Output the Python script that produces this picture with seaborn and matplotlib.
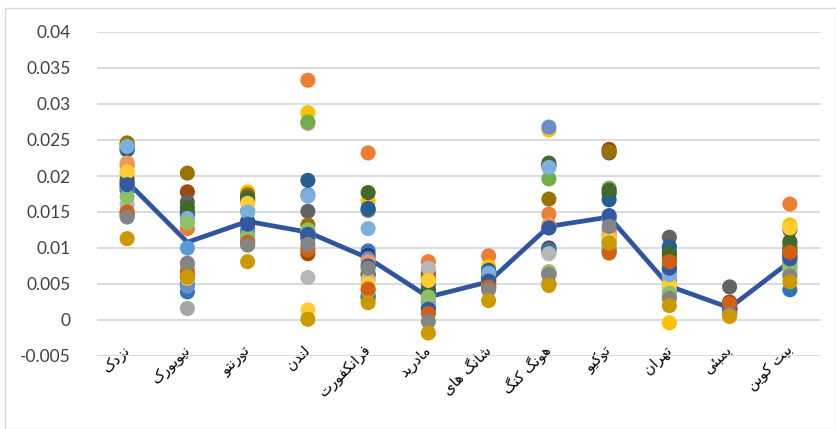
import numpy as np
import pandas as pd
import matplotlib
matplotlib.use("Agg")
import matplotlib.pyplot as plt
from matplotlib.ticker import MultipleLocator, FuncFormatter
from matplotlib.patches import Rectangle
import seaborn as sns

# ---------------- data ----------------
categories = ["نزدک", "نیویورک", "تورنتو", "لندن", "فرانکفورت", "مادرید",
              "شانگ های", "هونگ کنگ", "توکیو", "تهران", "بمبئی", "بیت کوین"]

mean_values = [0.0192, 0.0108, 0.0137, 0.0122, 0.0086, 0.0032,
               0.0053, 0.0130, 0.0143, 0.0047, 0.0017, 0.0081]

s01 = [0.0183, 0.0050, 0.0135, 0.0115, 0.0096, 0.0025, 0.0060, 0.0128, 0.0143, 0.0070, 0.0018, 0.0090]
s02 = [0.0214, 0.0127, 0.0110, 0.0333, 0.0232, 0.0081, 0.0089, 0.0147, 0.0125, 0.0078, 0.0020, 0.0161]
s03 = [0.0145, 0.0016, 0.0106, 0.0273, 0.0152, 0.0045, 0.0050, 0.0064, 0.0110, 0.0033, 0.0012, 0.0065]
s04 = [0.0203, 0.0062, 0.0178, 0.0288, 0.0165, 0.0058, 0.0074, 0.0264, 0.0118, -0.0004, 0.0008, 0.0132]
s05 = [0.0190, 0.0100, 0.0152, 0.0174, 0.0035, 0.0022, 0.0058, 0.0214, 0.0098, 0.0066, 0.0016, 0.0072]
s06 = [0.0192, 0.0150, 0.0118, 0.0275, 0.0030, 0.0040, 0.0063, 0.0196, 0.0183, 0.0040, 0.0014, 0.0105]
s07 = [0.0243, 0.0145, 0.0137, 0.0121, 0.0090, 0.0033, 0.0055, 0.0100, 0.0176, 0.0095, 0.0021, 0.0088]
s08 = [0.0148, 0.0178, 0.0112, 0.0092, 0.0062, 0.0065, 0.0047, 0.0065, 0.0237, 0.0085, 0.0025, 0.0098]
s09 = [0.0236, 0.0164, 0.0166, 0.0151, 0.0153, 0.0050, 0.0066, 0.0098, 0.0232, 0.0115, 0.0046, 0.0125]
s10 = [0.0246, 0.0204, 0.0174, 0.0132, 0.0065, 0.0060, 0.0056, 0.0168, 0.0234, 0.0089, 0.0019, 0.0101]
s11 = [0.0238, 0.0149, 0.0168, 0.0194, 0.0155, 0.0042, 0.0069, 0.0215, 0.0167, 0.0102, 0.0017, 0.0095]
s12 = [0.0195, 0.0156, 0.0170, 0.0120, 0.0177, 0.0037, 0.0062, 0.0218, 0.0180, 0.0092, 0.0015, 0.0109]
s13 = [0.0180, 0.0039, 0.0125, 0.0113, 0.0032, 0.0018, 0.0044, 0.0095, 0.0096, 0.0055, 0.0014, 0.0042]
s14 = [0.0185, 0.0047, 0.0123, 0.0117, 0.0085, 0.0020, 0.0052, 0.0268, 0.0140, 0.0074, 0.0013, 0.0078]
s15 = [0.0218, 0.0072, 0.0113, 0.0101, 0.0081, 0.0029, 0.0049, 0.0132, 0.0121, 0.0060, 0.0011, 0.0080]
s16 = [0.0160, 0.0075, 0.0110, 0.0059, 0.0056, 0.0072, 0.0045, 0.0092, 0.0115, 0.0043, 0.0010, 0.0069]
s17 = [0.0206, 0.0058, 0.0162, 0.0014, 0.0050, 0.0055, 0.0053, 0.0062, 0.0112, 0.0050, 0.0009, 0.0128]
s18 = [0.0241, 0.0141, 0.0150, 0.0172, 0.0127, 0.0024, 0.0065, 0.0212, 0.0100, 0.0063, 0.0012, 0.0083]
s19 = [0.0171, 0.0135, 0.0116, 0.0125, 0.0040, 0.0032, 0.0048, 0.0067, 0.0104, 0.0037, 0.0010, 0.0075]
s20 = [0.0188, 0.0060, 0.0133, 0.0119, 0.0075, 0.0015, 0.0054, 0.0128, 0.0145, 0.0072, 0.0016, 0.0085]
s21 = [0.0150, 0.0066, 0.0108, 0.0097, 0.0043, 0.0009, 0.0046, 0.0050, 0.0093, 0.0081, 0.0023, 0.0094]
s22 = [0.0143, 0.0079, 0.0104, 0.0105, 0.0072, -0.0002, 0.0042, 0.0063, 0.0130, 0.0030, 0.0008, 0.0061]
s23 = [0.0113, 0.0060, 0.0081, 0.0001, 0.0024, -0.0018, 0.0027, 0.0048, 0.0107, 0.0020, 0.0005, 0.0053]

series = [s01, s02, s03, s04, s05, s06, s07, s08, s09, s10, s11, s12,
          s13, s14, s15, s16, s17, s18, s19, s20, s21, s22, s23]

# ---------------- styles ----------------
series_colors = ["#4472C4", "#ED7D31", "#A5A5A5", "#FFC000", "#5B9BD5", "#70AD47",
                 "#264478", "#9E480E", "#636363", "#997300", "#255E91", "#43682B",
                 "#2E75B6",
                 "#698ED0", "#F1975A", "#B7B7B7", "#FFCD33", "#7CAFDD", "#8CC168",
                 "#335AA1", "#D26012", "#848484", "#CC9A00"]
line_color = "#2F55A0"

# ---------------- minimal Persian shaping for display ----------------
FORMS = {
    "ا": ("\uFE8D", "\uFE8E", None, None),
    "د": ("\uFEA9", "\uFEAA", None, None),
    "ر": ("\uFEAD", "\uFEAE", None, None),
    "ز": ("\uFEAF", "\uFEB0", None, None),
    "و": ("\uFEED", "\uFEEE", None, None),
    "ب": ("\uFE8F", "\uFE90", "\uFE91", "\uFE92"),
    "ت": ("\uFE95", "\uFE96", "\uFE97", "\uFE98"),
    "ش": ("\uFEB5", "\uFEB6", "\uFEB7", "\uFEB8"),
    "ف": ("\uFED1", "\uFED2", "\uFED3", "\uFED4"),
    "ک": ("\uFB8E", "\uFB8F", "\uFB90", "\uFB91"),
    "گ": ("\uFB92", "\uFB93", "\uFB94", "\uFB95"),
    "ل": ("\uFEDD", "\uFEDE", "\uFEDF", "\uFEE0"),
    "م": ("\uFEE1", "\uFEE2", "\uFEE3", "\uFEE4"),
    "ن": ("\uFEE5", "\uFEE6", "\uFEE7", "\uFEE8"),
    "ه": ("\uFEE9", "\uFEEA", "\uFEEB", "\uFEEC"),
    "ی": ("\uFBFC", "\uFBFD", "\uFBFE", "\uFBFF"),
    "ئ": ("\uFE89", "\uFE8A", "\uFE8B", "\uFE8C"),
}
RIGHT_ONLY = set("ادرزو")


def shape(text):
    chars = list(text)
    out = []
    for i, c in enumerate(chars):
        if c not in FORMS:
            out.append(c)
            continue
        prev = chars[i - 1] if i > 0 else None
        nxt = chars[i + 1] if i + 1 < len(chars) else None
        jp = prev in FORMS and prev not in RIGHT_ONLY
        jn = nxt in FORMS and c not in RIGHT_ONLY
        iso, fin, ini, med = FORMS[c]
        if jp and jn:
            f = med
        elif jp:
            f = fin
        elif jn:
            f = ini
        else:
            f = iso
        out.append(f)
    return "".join(reversed(out))


# ---------------- build data frame ----------------
rows = []
for k, vals in enumerate(series):
    for cat, v in zip(categories, vals):
        rows.append({"category": cat, "value": v, "series": f"S{k + 1}"})
df = pd.DataFrame(rows)
df_mean = pd.DataFrame({"category": categories, "value": mean_values})

# ---------------- plot ----------------
sns.set_theme(style="white")
plt.rcParams["font.family"] = ["Lato", "DejaVu Sans"]

fig = plt.figure(figsize=(8.37, 4.29), dpi=100)
ax = fig.add_axes([97 / 837, 1 - 356 / 429, (820 - 97) / 837, (356 - 32) / 429])

sns.lineplot(data=df_mean, x="category", y="value", color=line_color,
             linewidth=3.4, sort=False, ax=ax, zorder=2)
palette = {f"S{k + 1}": c for k, c in enumerate(series_colors)}
sns.scatterplot(data=df, x="category", y="value", hue="series", palette=palette,
                s=118, linewidth=0, alpha=1, legend=False, ax=ax, zorder=3)

ax.set_ylim(-0.005, 0.04)
ax.set_xlim(-0.5, len(categories) - 0.5)
ax.yaxis.set_major_locator(MultipleLocator(0.005))
ax.yaxis.set_major_formatter(FuncFormatter(lambda v, p: f"{round(v, 4):g}"))
ax.grid(axis="y", color="#D9D9D9", linewidth=1.3)
ax.set_axisbelow(True)
for sp in ax.spines.values():
    sp.set_visible(False)
ax.set_xlabel("")
ax.set_ylabel("")
ax.tick_params(axis="y", length=0, pad=19, labelsize=12.5, labelcolor="#404040")
ax.tick_params(axis="x", length=0, pad=-6)
ax.set_xticks(range(len(categories)))
ax.set_xticklabels([shape(c) for c in categories], rotation=45, ha="right",
                   va="center", rotation_mode="anchor", fontsize=10.5,
                   color="#000000", family=["DejaVu Sans"])

fig.patches.append(Rectangle((5 / 837, 0), 831 / 837, 1 - 8 / 429,
                             transform=fig.transFigure, fill=False,
                             edgecolor="#D9D9D9", linewidth=1))

fig.savefig("out.png", dpi=100)
